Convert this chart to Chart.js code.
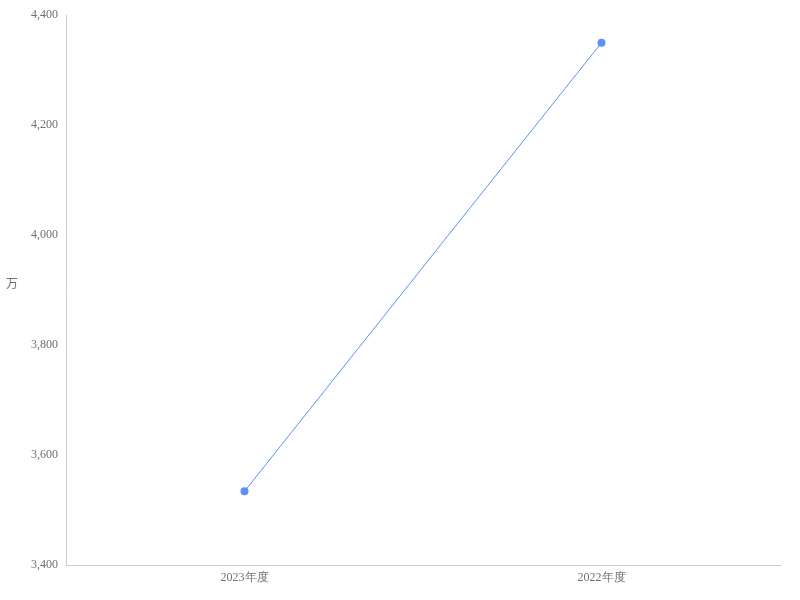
<!DOCTYPE html>
<html>
<head>
<meta charset="utf-8">
<script src="https://cdn.jsdelivr.net/npm/chart.js@4/dist/chart.umd.min.js"></script>
<style>
html,body{margin:0;padding:0;background:#fff;}
#wrap{width:800px;height:600px;position:relative;}
</style>
</head>
<body>
<div id="wrap"><canvas id="c" width="800" height="600"></canvas></div>
<script>
const categories = ["2023年度", "2022年度"];
const values = [3534, 4350];
const yTicks = [3400, 3600, 3800, 4000, 4200, 4400];
const yTitle = "万";

const titlePlugin = {
  id: 'uprightTitle',
  afterDraw(chart) {
    const ctx = chart.ctx;
    ctx.save();
    ctx.font = '12px "Noto Sans CJK SC", sans-serif';
    ctx.fillStyle = '#6e7079';
    ctx.textAlign = 'center';
    ctx.textBaseline = 'middle';
    ctx.fillText(yTitle, 12, 283);
    ctx.restore();
  }
};

new Chart(document.getElementById('c'), {
  type: 'line',
  data: {
    labels: categories,
    datasets: [{
      data: values,
      borderColor: '#5b8ff9',
      backgroundColor: '#5b8ff9',
      borderWidth: 1,
      pointRadius: 4,
      pointBorderWidth: 0,
      pointBackgroundColor: '#5b8ff9',
      tension: 0
    }]
  },
  options: {
    responsive: false,
    animation: false,
    devicePixelRatio: 1,
    layout: { padding: { top: 8, right: 20, left: 0, bottom: 0 } },
    plugins: { legend: { display: false }, tooltip: { enabled: false } },
    scales: {
      x: {
        offset: true,
        grid: { display: false, drawTicks: false },
        border: { display: true, color: '#cccccc' },
        ticks: { color: '#6e7079', font: { family: '"Liberation Serif", serif', size: 12 }, padding: 6 },
        afterFit(s) { s.height = 35; }
      },
      y: {
        min: 3400, max: 4400,
        afterBuildTicks(s) { s.ticks = yTicks.map(v => ({ value: v })); },
        grid: { display: false, drawTicks: false },
        border: { display: true, color: '#cccccc' },
        ticks: {
          color: '#6e7079',
          font: { family: '"Liberation Serif", serif', size: 12 },
          padding: 8,
          callback: v => v.toLocaleString('en-US')
        },
        afterFit(s) { s.width = 66; }
      }
    }
  },
  plugins: [titlePlugin]
});
</script>
</body>
</html>
